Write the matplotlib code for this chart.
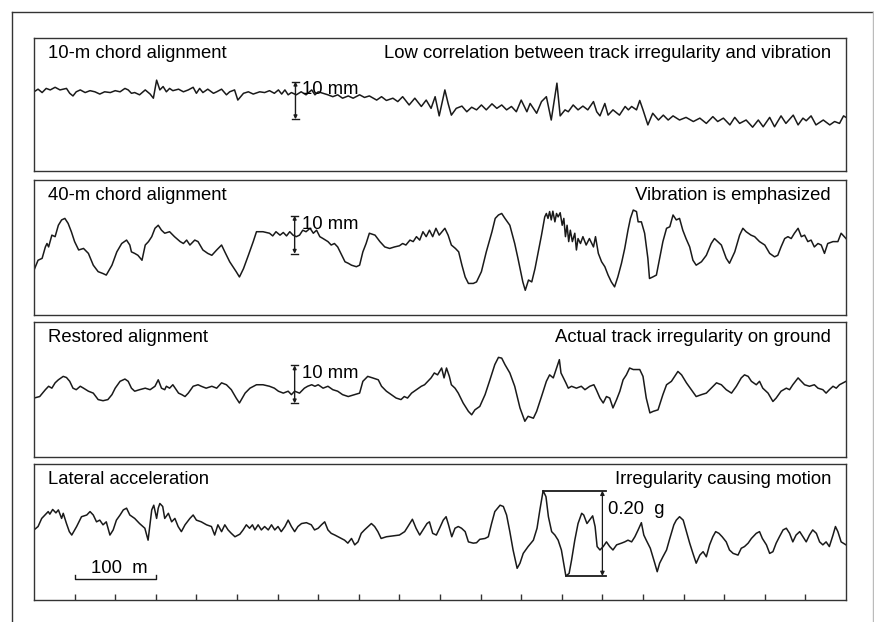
import matplotlib
matplotlib.use("Agg")
import matplotlib.pyplot as plt
from matplotlib.lines import Line2D

plt.rcParams['font.family'] = ['Liberation Sans', 'DejaVu Sans']

# distance along track (m) and values
chord10_x = [0, 5, 10, 15, 20, 26, 32, 36, 40, 44, 48, 52, 57, 63, 69, 75, 81, 87, 94, 100,
             106, 112, 116, 120, 124, 130, 137, 143, 147, 151, 155, 159, 163, 167, 171, 178, 184, 190, 196, 200,
             204, 208, 214, 221, 225, 231, 237, 241, 247, 251, 258, 264, 270, 278, 284, 290, 296, 301, 305, 309,
             313, 317, 323, 329, 335, 342, 346, 350, 356, 362, 368, 374, 380, 387, 393, 401, 407, 413, 422, 428,
             434, 442, 448, 454, 462, 469, 477, 483, 489, 494, 499, 506, 510, 514, 520, 527, 533, 539, 545, 551,
             557, 564, 570, 576, 582, 588, 594, 600, 607, 611, 619, 625, 631, 637, 644, 648, 654, 658, 664, 670,
             676, 682, 689, 693, 697, 703, 707, 713, 721, 728, 732, 736, 742, 746, 750, 756, 762, 769, 775, 781,
             787, 795, 803, 812, 820, 828, 836, 842, 849, 857, 863, 869, 877, 885, 892, 898, 906, 912, 920, 926,
             935, 941, 947, 951, 957, 963, 972, 980, 986, 992, 997, 1000]
chord10_mm = [2.3, 3.0, 2.1, 3.2, 2.8, 3.5, 2.8, 3.0, 3.2, 1.9, 1.2, 2.3, 2.8, 2.1, 2.6, 2.3, 1.7, 2.3, 2.1, 2.6,
              2.3, 3.2, 2.8, 1.9, 2.1, 1.5, 2.8, 1.7, 0.6, 5.4, 2.8, 3.7, 2.3, 3.2, 2.6, 3.0, 2.3, 2.8, 3.5, 1.9,
              3.2, 2.1, 3.0, 1.9, 2.3, 3.0, 1.5, 2.3, 2.8, 0.1, 1.9, 2.3, 1.7, 2.3, 2.1, 2.6, 1.9, 2.8, 1.7, 2.8,
              1.5, 2.1, 1.5, 2.3, 1.5, 2.8, 1.5, 2.3, 1.9, 1.5, 1.0, 1.5, 0.6, 1.2, 0.6, 1.5, 0.8, 1.2, 0.1, 1.0,
              0.0, 0.6, -0.3, 1.0, -1.2, 0.6, -1.6, 0.1, -2.1, 1.0, -4.1, 2.8, -0.8, -3.9, -2.1, -1.5, -3.0, -1.8, -2.5, -1.2,
              -2.5, -0.9, -2.1, -1.2, -2.5, -1.6, -3.0, 0.1, -3.0, -0.8, -3.4, -0.3, 1.0, -5.2, 4.6, -4.1, -2.5, -3.0, -1.2, -2.5,
              -1.5, -2.5, -0.3, -3.0, -4.1, -0.8, -3.9, -2.5, -3.9, -1.6, -2.5, -1.6, -2.5, 0.0, -2.5, -6.5, -3.4, -5.2, -3.9, -5.2,
              -4.1, -5.2, -4.5, -5.6, -4.7, -6.1, -4.3, -5.6, -4.7, -6.5, -4.5, -6.1, -5.2, -7.1, -5.2, -7.0, -4.5, -7.0, -4.1, -6.1,
              -3.9, -6.5, -4.7, -5.4, -4.1, -6.5, -5.2, -6.5, -5.6, -6.1, -4.1, -4.5]

chord40_x = [0, 5, 10, 14, 16, 18, 22, 26, 30, 34, 38, 42, 46, 50, 55, 61, 67, 73, 79, 85,
             89, 96, 102, 108, 114, 118, 120, 124, 128, 133, 137, 141, 145, 149, 153, 157, 161, 167, 173, 180,
             184, 188, 192, 198, 202, 208, 214, 219, 225, 231, 235, 241, 249, 253, 258, 264, 270, 274, 282, 290,
             294, 298, 303, 307, 311, 315, 319, 323, 327, 331, 335, 340, 344, 348, 352, 356, 362, 366, 370, 374,
             379, 383, 387, 391, 397, 401, 405, 409, 413, 420, 426, 432, 438, 444, 450, 454, 458, 463, 467, 471,
             475, 479, 483, 487, 491, 495, 499, 506, 510, 514, 519, 523, 527, 531, 535, 541, 545, 551, 557, 564,
             568, 572, 576, 580, 586, 592, 596, 602, 605, 609, 613, 617, 621, 625, 629, 631, 633, 635, 637, 639,
             641.5, 643.5, 645.5, 648, 650.5, 652.5, 654.5, 656.5, 658.5, 660.5, 663, 666, 668, 670, 673, 676, 680, 684, 689, 691.5,
             695, 699, 703, 707, 711, 715, 719, 723.5, 727.5, 731.5, 734.5, 738, 742, 744, 748, 752, 756, 758, 762, 766.5,
             770.5, 774.5, 779, 783, 787, 791, 795, 799, 803, 807.5, 811.5, 815.5, 822, 828, 834, 838, 842, 846.5, 852.5, 856.5,
             863, 869, 873, 877, 883, 887.5, 893.5, 900, 906, 912, 916, 920, 924.5, 928.5, 932.5, 936.5, 941, 945, 949, 953,
             957, 961, 965.5, 969.5, 973.5, 977.5, 984, 990, 994, 1000]
chord40_mm = [-9.3, -6.7, -6.2, -3.2, -2.3, -3.2, -0.1, -0.5, 2.5, 3.9, 4.3, 3.0, 0.8, -1.8, -4.0, -3.6, -4.9, -8.0, -9.7, -10.2,
              -10.6, -8.0, -4.5, -2.3, -1.4, -2.7, -4.5, -4.9, -5.4, -6.7, -2.7, -1.8, -0.5, 1.7, 2.5, 1.2, 0.4, 0.8, -0.5, -1.8,
              -2.3, -1.4, -2.7, -1.4, -1.8, -4.0, -4.9, -5.4, -4.0, -2.7, -4.5, -7.1, -9.7, -11.1, -8.9, -5.4, -1.8, 0.8, 0.8, 0.4,
              -0.3, 0.8, -0.1, 0.6, -0.3, 0.8, -0.1, -0.5, -0.1, 1.2, 0.8, 1.7, 0.4, 1.2, -0.5, -1.0, -1.8, -2.7, -2.3, -3.2,
              -5.4, -7.1, -7.5, -8.0, -8.4, -8.0, -4.5, -2.3, 0.4, -0.1, -1.8, -3.2, -3.6, -3.2, -2.9, -2.3, -2.7, -1.4, -1.8, -0.5,
              -1.4, 0.8, -0.5, 1.2, -0.5, 1.7, -0.1, 1.7, -0.1, -2.7, -3.6, -4.5, -8.0, -11.1, -12.8, -12.8, -12.4, -9.7, -4.5, 0.8,
              4.3, 5.2, 5.6, 4.3, 2.5, -2.3, -6.2, -12.4, -14.6, -11.9, -12.4, -8.9, -4.5, -0.1, 4.7, 5.6, 4.3, 6.1, 3.9, 6.2,
              3.4, 5.6, 4.7, 5.8, 2.5, 4.3, -0.5, 2.5, -1.8, 1.2, -1.8, 0.4, -4.0, -1.0, -2.3, -0.5, -2.7, -1.0, -3.2, -0.5,
              -4.9, -7.1, -8.4, -10.6, -12.4, -13.7, -11.1, -7.5, -3.6, 1.2, 4.3, 6.5, 6.1, 3.4, 3.4, 0.4, -6.2, -11.5, -11.1, -10.6,
              -6.2, -1.8, 1.7, 2.1, 5.2, 3.9, 4.3, 1.2, -1.0, -3.2, -6.7, -8.0, -7.1, -5.4, -2.3, -1.0, -1.8, -2.7, -6.2, -7.5,
              -4.5, -0.1, 1.7, 0.8, -0.1, -0.5, -1.8, -2.7, -4.9, -5.8, -5.4, -3.2, -1.0, -0.5, -1.0, 0.4, 1.7, -0.5, -0.1, -1.8,
              -1.4, -3.2, -2.3, -2.7, -4.9, -2.3, -1.8, -1.8, 0.4, -1.0]

restored_x = [0, 7, 14, 18, 22, 26, 30, 36, 40, 44, 48, 52, 57, 61, 67, 73, 79, 85, 91, 96,
              100, 106, 112, 116, 120, 124, 130, 137, 143, 149, 153, 157, 161, 163, 167, 171, 178, 182, 186, 190,
              196, 202, 206, 212, 219, 225, 231, 237, 243, 249, 253, 260, 266, 274, 282, 290, 296, 301, 307, 313,
              317, 321, 327, 333, 337, 342, 346, 350, 356, 362, 368, 374, 380, 387, 395, 401, 405, 411, 417, 424,
              428, 434, 440, 446, 452, 456, 460, 465, 471, 477, 481, 485, 489, 493, 497, 502, 505, 508, 511.5, 514,
              518.5, 522.5, 528.5, 535, 539, 543, 549, 555.5, 561.5, 567.5, 572, 576, 580, 586, 592, 598.5, 604.5, 608.5, 615, 619,
              625, 631, 635, 639.5, 643.5, 647, 649, 652, 655, 658, 662, 668, 674, 678.5, 684.5, 689.5, 692.5, 697, 701, 705,
              709, 713, 717.5, 721.5, 725.5, 729.5, 733.5, 738, 746, 750, 754, 758.5, 762.5, 768.5, 774.5, 779, 785, 789, 793, 797.5,
              803.5, 809.5, 815.5, 822, 828, 834, 840.5, 846.5, 852.5, 859, 865, 871, 875, 879.5, 883.5, 889.5, 893.5, 897.5, 904, 910,
              914, 920, 926.5, 930.5, 934.5, 941, 945, 949, 955, 961, 965.5, 971.5, 975.5, 979.5, 984, 988, 992, 1000]
restored_mm = [-3.6, -3.2, -1.4, -0.5, -1.0, 0.4, 1.2, 2.1, 1.8, 0.8, -1.0, -1.4, -0.5, -1.0, -1.8, -2.3, -4.0, -4.3, -4.0, -2.7,
               -1.0, 0.8, 1.4, 0.8, -1.0, -1.8, -1.4, -1.0, -1.4, -0.5, 1.2, -1.0, -1.4, -0.5, -1.0, -0.1, -2.3, -2.7, -3.2, -2.3,
               -0.5, -0.1, -0.5, -1.0, -0.5, -1.0, 0.4, -0.1, -1.4, -3.6, -4.9, -2.3, -1.0, -0.1, -0.1, -0.5, -1.0, -1.8, -2.3, -1.8,
               -2.7, -1.8, -2.3, -1.0, -0.5, -0.1, -0.5, -0.1, -1.0, -0.5, -1.4, -1.8, -2.7, -3.2, -2.7, -2.3, 0.8, 2.1, 1.7, 1.2,
               -0.5, -1.8, -2.7, -3.6, -4.0, -3.2, -3.6, -2.3, -1.4, -0.5, -0.1, 0.8, 1.7, 3.0, 2.5, 4.3, 1.7, 4.3, 2.1, -0.1,
               -1.0, -2.3, -4.9, -7.1, -8.0, -6.7, -5.8, -2.7, 1.2, 5.2, 7.1, 6.9, 5.2, 3.0, -0.5, -6.2, -9.7, -8.4, -8.9, -7.1,
               -3.2, 0.8, 2.5, 1.7, 4.3, 6.5, 3.0, 1.7, 0.4, -1.0, -0.5, -1.0, -0.5, -1.4, -0.5, -0.1, -1.4, -3.6, -4.9, -3.2,
               -3.6, -6.2, -4.0, -1.8, 1.2, 2.5, 4.3, 3.9, 3.9, 2.1, -3.6, -7.5, -7.1, -6.7, -2.7, -0.1, 0.8, 2.1, 3.4, 2.5,
               0.4, -1.4, -3.2, -2.7, -2.3, -1.0, 0.4, -0.1, -1.4, -2.3, -0.5, 1.7, 2.5, 2.1, 0.8, -0.1, 0.8, -1.0, -2.3, -4.5,
               -3.6, -1.8, -1.0, -1.4, -0.1, 1.7, 0.8, -0.1, -0.5, -0.1, -1.0, -1.4, -2.3, -1.4, -0.5, -1.0, -0.1, 0.8]

lateral_x = [0, 5, 9.5, 13.5, 17.5, 19.5, 23, 27, 30, 34, 36, 40, 43.5, 46.5, 52.5, 58.5, 65, 69, 73, 77,
             81, 85, 89, 93.5, 97.5, 101.5, 106, 110, 114, 118, 124, 130, 136.5, 140.5, 142.5, 145, 147.5, 151, 153, 155,
             158.5, 161, 165.5, 169.5, 173.5, 177.5, 181.5, 186, 192, 196, 200, 206, 212.5, 218.5, 222.5, 226.5, 231, 235, 239, 243,
             247.5, 253.5, 257.5, 261.5, 265.5, 269, 272, 276, 280, 284, 288.5, 292.5, 296.5, 300.5, 304.5, 309, 313, 317, 321, 325,
             329.5, 335.5, 341.5, 345.5, 350, 354, 358, 362, 366, 370.5, 374.5, 378.5, 382.5, 386.5, 391, 395, 399, 403, 407, 411.5,
             415.5, 419.5, 423.5, 427.5, 434, 442, 450, 456.5, 460.5, 466, 470.5, 475, 479, 484, 487, 491, 495.5, 499.5, 504, 507.5,
             510.5, 514.5, 518.5, 522.5, 526.5, 531, 535, 541, 545, 549, 555.5, 559.5, 563.5, 567.5, 574, 578, 582, 586, 590, 595,
             598.5, 602.5, 608.5, 615, 619.5, 623, 627, 630.5, 633.5, 637.5, 641.5, 645.5, 649.5, 655, 659, 662, 666, 670, 674.5, 677,
             681, 688, 691, 693.5, 697, 701, 705, 709, 713, 717.5, 723.5, 727.5, 731.5, 736, 740, 744, 748, 751, 754, 759,
             764.5, 767.5, 770.5, 774.5, 779, 783, 788, 791, 795, 799.5, 803.5, 807.5, 811.5, 815.5, 820, 824, 828, 832, 836, 839.5,
             843.5, 847.5, 852.5, 856.5, 861, 867, 871, 875, 879.5, 883.5, 889.5, 893.5, 897, 902, 906, 910, 914, 918, 922.5, 926.5,
             930.5, 934.5, 938.5, 943, 947, 951, 955, 959, 963.5, 967.5, 971.5, 975.5, 979.5, 984, 987, 990, 994, 1000]
lateral_g = [0.008, 0.016, 0.035, 0.043, 0.051, 0.045, 0.056, 0.048, 0.055, 0.035, 0.047, 0.023, 0.004, -0.004, 0.016, 0.039, 0.043, 0.051, 0.043, 0.027,
             0.031, 0.020, 0.027, -0.004, 0.008, 0.031, 0.043, 0.055, 0.059, 0.043, 0.035, 0.023, 0.012, -0.016, 0.016, 0.055, 0.066, 0.035, 0.059, 0.070,
             0.063, 0.035, 0.047, 0.027, 0.035, 0.016, 0.004, 0.020, 0.035, 0.043, 0.031, 0.027, 0.020, 0.016, -0.004, 0.020, 0.004, 0.020, 0.008, 0.000,
             -0.008, -0.002, 0.008, 0.020, 0.012, 0.020, 0.008, 0.020, 0.008, 0.016, 0.008, 0.020, 0.008, 0.016, 0.004, 0.016, 0.031, 0.016, 0.004, 0.016,
             0.023, 0.025, 0.020, 0.008, 0.012, 0.020, 0.027, 0.008, 0.000, -0.004, -0.008, -0.012, -0.016, -0.023, -0.012, -0.027, -0.020, 0.000, 0.008, 0.016,
             0.023, 0.016, 0.004, -0.012, -0.008, -0.006, -0.004, 0.004, 0.016, 0.033, 0.012, -0.004, 0.008, 0.023, 0.027, 0.000, -0.004, 0.012, 0.031, 0.039,
             0.020, -0.008, 0.012, 0.016, 0.012, 0.004, -0.020, -0.023, -0.022, -0.014, -0.012, -0.008, 0.023, 0.051, 0.066, 0.063, 0.043, 0.004, -0.039, -0.082,
             -0.070, -0.047, -0.031, -0.016, 0.012, 0.055, 0.100, 0.086, 0.039, 0.004, -0.004, -0.016, -0.039, -0.100, -0.094, -0.063, -0.016, 0.023, 0.047, 0.043,
             0.023, 0.041, 0.016, -0.031, -0.039, -0.031, -0.020, -0.031, -0.039, -0.027, -0.023, -0.020, -0.016, -0.020, -0.008, 0.008, 0.025, -0.004, -0.016, -0.035,
             -0.070, -0.090, -0.070, -0.055, -0.039, -0.012, 0.020, 0.031, 0.039, 0.031, 0.004, -0.023, -0.047, -0.070, -0.051, -0.043, -0.055, -0.027, -0.008, 0.004,
             0.000, -0.008, -0.020, -0.039, -0.047, -0.051, -0.035, -0.031, -0.023, -0.012, 0.000, 0.004, -0.012, -0.027, -0.047, -0.043, -0.023, -0.008, 0.008, 0.012,
             0.000, -0.020, -0.004, 0.004, -0.008, -0.020, -0.004, 0.008, 0.000, -0.020, -0.027, -0.020, -0.031, -0.004, 0.016, 0.004, -0.020, -0.027]

labels_left = ['10-m chord alignment', '40-m chord alignment', 'Restored alignment', 'Lateral acceleration']
labels_right = ['Low correlation between track irregularity and vibration', 'Vibration is emphasized',
                'Actual track irregularity on ground', 'Irregularity causing motion']
tick_m = list(range(50, 1000, 50))

W, H = 874, 622
FS = 13.3
fig = plt.figure(figsize=(W / 100, H / 100), dpi=100)

# outer frame (left, top, right)
fig.add_artist(Line2D([11.5 / W, 11.5 / W], [0, 1 - 11.5 / H], color='#333333', lw=1.0))
fig.add_artist(Line2D([11.5 / W, 873 / W], [1 - 11.5 / H, 1 - 11.5 / H], color='#333333', lw=1.0))
fig.add_artist(Line2D([873 / W, 873 / W], [0, 1 - 11.5 / H], color='#bbbbbb', lw=1.0))

# panel boxes in pixels: (top, bottom) and y-limits
boxes = [(38, 171), (180, 315), (322, 457), (464, 600)]
ylims = [(-18.75, 16.6), (-21.1, 14.4), (-19.1, 16.4), (-0.1563, 0.1626)]
series = [(chord10_x, chord10_mm), (chord40_x, chord40_mm), (restored_x, restored_mm), (lateral_x, lateral_g)]
mm_bar_x = [322, 321, 321]

axes = []
for i, (top, bot) in enumerate(boxes):
    ax = fig.add_axes([34 / W, 1 - bot / H, 812 / W, (bot - top) / H])
    xs, ys = series[i]
    ax.plot(xs, ys, color='#1a1a1a', lw=1.1, solid_joinstyle='round')
    ax.set_xlim(0, 1000)
    ax.set_ylim(*ylims[i])
    ax.set_xticks([])
    ax.set_yticks([])
    for s in ax.spines.values():
        s.set_color('#333333')
        s.set_linewidth(1.0)
    hpx = bot - top
    ax.text(14 / 812, 1 - 20 / hpx, labels_left[i], transform=ax.transAxes, fontsize=FS, va='baseline', ha='left')
    ax.text(797 / 812, 1 - 20 / hpx, labels_right[i], transform=ax.transAxes, fontsize=FS, va='baseline', ha='right')
    axes.append(ax)

# 10 mm scale bars
for i in range(3):
    ax = axes[i]
    bx = mm_bar_x[i]
    ax.annotate('', xy=(bx, 5), xytext=(bx, -5),
                arrowprops=dict(arrowstyle='<|-|>', color='#1a1a1a', lw=1.0, mutation_scale=5, shrinkA=0, shrinkB=0))
    ax.plot([bx - 4.5, bx + 4.5], [5, 5], color='#1a1a1a', lw=1.0)
    ax.plot([bx - 4.5, bx + 4.5], [-5, -5], color='#1a1a1a', lw=1.0)
    ax.text(bx + 8.5, 2.8, '10 mm', fontsize=FS, va='center', ha='left')

# lateral acceleration panel: 0.20 g bracket, 100 m bar, distance ticks
ax = axes[3]
ax.plot([627, 705], [0.1, 0.1], color='#1a1a1a', lw=1.3)
ax.plot([655, 705], [-0.1, -0.1], color='#1a1a1a', lw=1.3)
ax.annotate('', xy=(700, 0.1), xytext=(700, -0.1),
            arrowprops=dict(arrowstyle='<|-|>', color='#1a1a1a', lw=0.9, mutation_scale=6, shrinkA=0, shrinkB=0))
ax.text(707, 0.055, '0.20  g', fontsize=FS, va='center', ha='left')

ax.plot([50, 50, 150, 150], [-0.097, -0.107, -0.107, -0.097], color='#1a1a1a', lw=1.0)
ax.text(105, -0.103, '100  m', fontsize=FS, va='bottom', ha='center')

ax.set_xticks(tick_m)
ax.set_xticklabels([])
ax.tick_params(axis='x', direction='in', length=4, width=1.0, color='#333333')

fig.savefig('out.png', dpi=100)
